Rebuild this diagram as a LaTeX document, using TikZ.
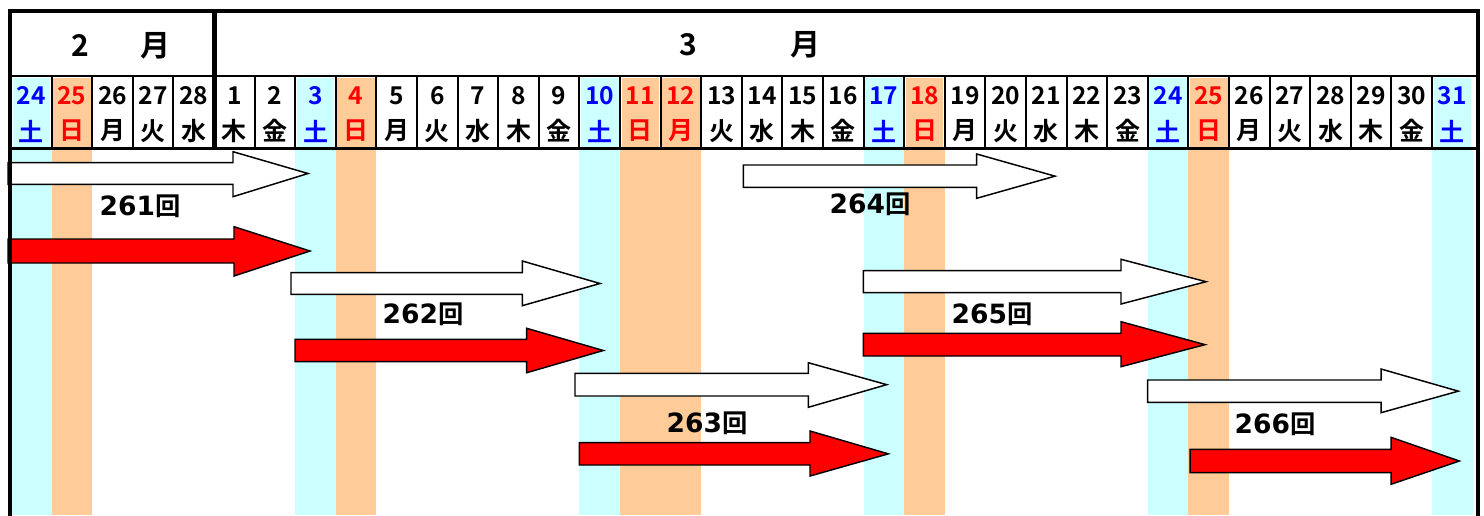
\documentclass[tikz,border=0pt]{standalone}
\usepackage{fontspec}
\setmainfont{Noto Sans CJK JP}[BoldFont=* Bold]
\newfontfamily\djb{DejaVu Sans Bold}
\newfontfamily\jpf{Noto Sans CJK JP}[BoldFont=* Bold]
\definecolor{bgs}{HTML}{CCFFFF}
\definecolor{bgh}{HTML}{FFCC99}
\definecolor{bgn}{HTML}{FFFFFF}
\definecolor{fgs}{HTML}{0000FF}
\definecolor{fgh}{HTML}{FF0000}
\definecolor{fgn}{HTML}{000000}
\newcommand\blkarrow[8]{%
  \draw[#1] (#2,#3) -- (#5,#3) -- (#5,#6) -- (#8,{(#3+#4)/2}) -- (#5,#7) -- (#5,#4) -- (#2,#4) -- cycle;}
\newcommand\lab[1]{{\djb\fontsize{19.9}{20}\selectfont #1}{\jpf\bfseries\fontsize{19}{19}\selectfont 回}}
\begin{document}
\begin{tikzpicture}[x=0.75pt,y=-0.75pt,
  warr/.style={draw=black,line width=1.1pt,fill=white,line join=miter},
  rarr/.style={draw=black,line width=1.1pt,fill=red,line join=miter},
  daynum/.style={inner sep=0pt,font=\bfseries\fontsize{18.4}{19}\selectfont},
  wday/.style={inner sep=0pt,font=\bfseries\fontsize{18.75}{19}\selectfont},
  mon/.style={inner sep=0pt,font=\bfseries\fontsize{22.5}{23}\selectfont},
  lbl/.style={inner sep=0pt}]
\useasboundingbox (0,0) rectangle (1484,515);
\fill[white] (0,0) rectangle (1484,515);
% shaded columns
\foreach \i in {0,7,14,21,28,35}
  \fill[bgs] ({11+40.6*\i},150) rectangle ({11+40.6*(\i+1)},515);
\foreach \i in {1,8,15,16,22,29}
  \fill[bgh] ({11+40.6*\i},150) rectangle ({11+40.6*(\i+1)},515);
% arrows
\blkarrow{warr}{8}{162.7}{184.3}{233}{151.7}{196.7}{308}
\blkarrow{rarr}{8}{239}{263}{234}{226.7}{276}{310}
\blkarrow{warr}{291}{272.7}{294.3}{522.3}{261}{305.7}{600}
\blkarrow{rarr}{295}{339.3}{361.7}{526.7}{328.3}{372.7}{603.3}
\blkarrow{warr}{575}{373.3}{396}{808.3}{362.7}{407.3}{886.7}
\blkarrow{rarr}{579.3}{442.7}{465}{810}{431}{476}{888.3}
\blkarrow{warr}{743.3}{165}{187.3}{976.7}{154}{198.3}{1055}
\blkarrow{warr}{863.3}{270.7}{292.7}{1121}{259.3}{304}{1206}
\blkarrow{rarr}{863.3}{333.3}{356}{1121}{321.7}{366.7}{1205}
\blkarrow{warr}{1147.7}{380}{402.3}{1381}{369}{412.7}{1458.3}
\blkarrow{rarr}{1190}{449.3}{472.7}{1391}{437.3}{484.3}{1459.3}
% labels
\node[lbl] (l261) at (140,206) {\lab{261}};
\node[lbl] (l262) at (423,314) {\lab{262}};
\node[lbl] (l263) at (707,423) {\lab{263}};
\node[lbl] (l264) at (870,204) {\lab{264}};
\node[lbl] (l265) at (992,314) {\lab{265}};
\node[lbl] (l266) at (1275,424) {\lab{266}};
% header
\fill[white] (10,10) rectangle (1478,148);
\foreach \i/\d/\w/\c in {0/24/土/s,1/25/日/h,2/26/月/n,3/27/火/n,4/28/水/n,5/1/木/n,6/2/金/n,7/3/土/s,8/4/日/h,9/5/月/n,10/6/火/n,11/7/水/n,12/8/木/n,13/9/金/n,14/10/土/s,15/11/日/h,16/12/月/h,17/13/火/n,18/14/水/n,19/15/木/n,20/16/金/n,21/17/土/s,22/18/日/h,23/19/月/n,24/20/火/n,25/21/水/n,26/22/木/n,27/23/金/n,28/24/土/s,29/25/日/h,30/26/月/n,31/27/火/n,32/28/水/n,33/29/木/n,34/30/金/n,35/31/土/s}{
  \fill[bg\c] ({11+40.6*\i+1.5},77.5) rectangle ({11+40.6*(\i+1)-1.5},146.5);
  \node[daynum,text=fg\c] (n\i) at ({11+40.6*(\i+0.5)},95.5) {\d};
  \node[wday,text=fg\c] (w\i) at ({11+40.6*(\i+0.5)},131) {\w};
}
\foreach \i in {1,2,3,4,6,7,8,9,10,11,12,13,14,15,16,17,18,19,20,21,22,23,24,25,26,27,28,29,30,31,32,33,34,35}
  \draw[line width=1.5pt] ({11+40.6*\i},76) -- ({11+40.6*\i},148);
\draw[line width=1.9pt] (10,76) -- (1478,76);
\draw[line width=2.6pt] (10,148.3) -- (1478,148.3);
\draw[line width=3.3pt] (214.5,11) -- (214.5,148);
% months
\node[mon] (feb) at (121,46) {2\hspace{38.8pt}月};
\node[mon] (mar) at (750,45) {3\hspace{70.3pt}月};
% outer border
\draw[line width=3pt,line cap=rect] (9.5,515) -- (9.5,11) -- (1477.5,11) -- (1477.5,515);
\end{tikzpicture}
\end{document}
